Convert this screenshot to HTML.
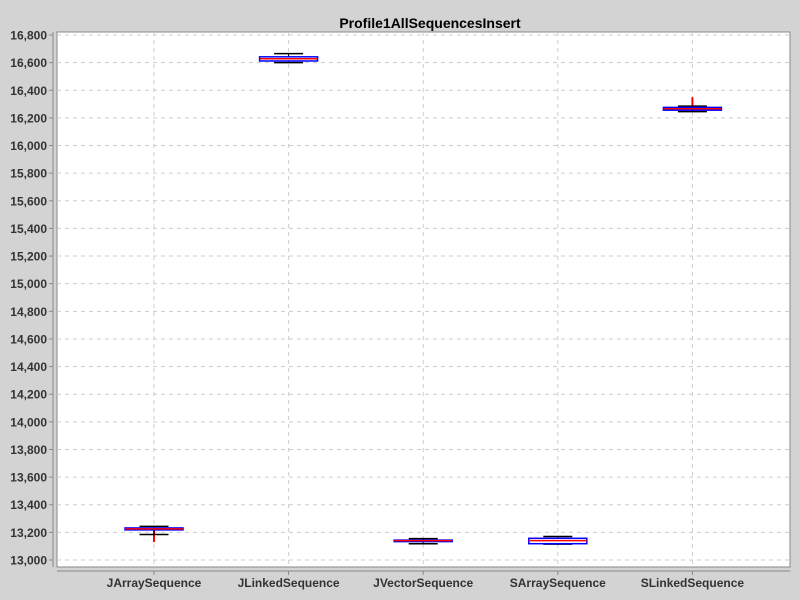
<!DOCTYPE html>
<html><head><meta charset="utf-8"><style>
html,body{margin:0;padding:0;background:#d3d3d3;}
svg{display:block;font-family:"Liberation Sans",sans-serif;}
</style></head><body>
<svg id="chart" width="800" height="600">
<rect width="800" height="600" fill="#d3d3d3"/>
<text x="430" y="28" text-anchor="middle" font-size="14" font-weight="bold" fill="#000">Profile1AllSequencesInsert</text>
<rect x="57" y="32" width="733" height="535" fill="#fff" stroke="#888" stroke-width="1"/>
<g id="grid"></g><g id="axes"></g><g id="marks"></g>
</svg>
<script>
const categories=["JArraySequence","JLinkedSequence","JVectorSequence","SArraySequence","SLinkedSequence"];
const q1Values=[13218,16612,13136,13118,16256];
const medianValues=[13225,16628,13140,13140,16266];
const q3Values=[13232,16642,13144,13157,16276];
const minValues=[13185,16600,13118,13115,16245];
const maxValues=[13243,16665,13155,13170,16285];
const outlierLineEnd=[13130,16628,13140,13140,16350];
const yTicks=[13000,13200,13400,13600,13800,14000,14200,14400,14600,14800,15000,15200,15400,15600,15800,16000,16200,16400,16600,16800];
const NS="http://www.w3.org/2000/svg";
const Y=v=>560-(v-13000)*(525/3800);
const X=i=>154+i*134.6;
function mk(t,a,p){const e=document.createElementNS(NS,t);for(const k in a)e.setAttribute(k,a[k]);p.appendChild(e);return e;}
const grid=document.getElementById('grid'),axes=document.getElementById('axes'),marks=document.getElementById('marks');
mk('line',{x1:53,y1:32,x2:53,y2:567,stroke:'#888'},axes);
mk('line',{x1:57,y1:571,x2:790,y2:571,stroke:'#888'},axes);
yTicks.forEach(v=>{
  const y=Y(v);
  const g=mk('line',{x1:57,x2:790,y1:y,y2:y,stroke:'#ccc','stroke-dasharray':'4,4'},grid);
  
  
  mk('line',{x1:49,x2:53,y1:y,y2:y,stroke:'#888'},axes);
  const t=mk('text',{x:47,y:y+4.5,'text-anchor':'end','font-size':'12','font-weight':'bold',fill:'#333'},axes);
  t.textContent=v.toLocaleString('en-US');
  
  
});
categories.forEach((c,i)=>{
  const x=X(i);
  const g=mk('line',{x1:x,x2:x,y1:32,y2:567,stroke:'#ccc','stroke-dasharray':'4,4'},grid);
  
  
  mk('line',{x1:x,x2:x,y1:571,y2:575,stroke:'#888'},axes);
  const t=mk('text',{x:x,y:587,'text-anchor':'middle','font-size':'12','font-weight':'bold',fill:'#333'},axes);
  t.textContent=c;
  
  
  const grp=mk('g',{},marks);
  
  
  const w=58,ww=29;
  mk('line',{x1:x,x2:x,y1:Y(medianValues[i]),y2:Y(outlierLineEnd[i]),stroke:'#f00','stroke-width':2},grp);
  mk('line',{x1:x,x2:x,y1:Y(maxValues[i]),y2:Y(q3Values[i]),stroke:'#000','stroke-width':1},grp);
  mk('line',{x1:x,x2:x,y1:Y(minValues[i]),y2:Y(q1Values[i]),stroke:'#000','stroke-width':1},grp);
  mk('line',{x1:x-ww/2,x2:x+ww/2,y1:Y(maxValues[i]),y2:Y(maxValues[i]),stroke:'#000','stroke-width':1.5},grp);
  mk('line',{x1:x-ww/2,x2:x+ww/2,y1:Y(minValues[i]),y2:Y(minValues[i]),stroke:'#000','stroke-width':1.5},grp);
  const yt=Y(q3Values[i]),yb=Y(q1Values[i]);
  mk('rect',{x:x-w/2,y:yt,width:w,height:Math.max(yb-yt,1.5),fill:'#fff',stroke:'#00f','stroke-width':1.5},grp);
  mk('line',{x1:x-w/2,x2:x+w/2,y1:Y(medianValues[i]),y2:Y(medianValues[i]),stroke:'#f00','stroke-width':1.5},grp);
});
</script>
</body></html>
